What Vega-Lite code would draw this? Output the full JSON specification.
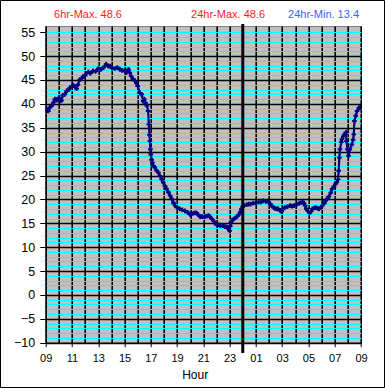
{
  "$schema": "https://vega.github.io/schema/vega-lite/v6.json",
  "width": 315.3,
  "height": 316.7,
  "autosize": "none",
  "padding": {"left": 45.7, "top": 26, "right": 24, "bottom": 45.3},
  "background": "white",
  "config": {
    "view": {"fill": "#C0C0C0", "stroke": "#808080", "strokeWidth": 1},
    "font": "Liberation Sans"
  },
  "resolve": {"axis": {"x": "independent", "y": "independent"}},
  "datasets": {
    "temp": [
      {"h": 0.0, "t": 39.1}, {"h": 0.1, "t": 38.6}, {"h": 0.2, "t": 38.5}, {"h": 0.3, "t": 39.2},
      {"h": 0.45, "t": 39.6}, {"h": 0.6, "t": 40.3}, {"h": 0.7, "t": 41.0}, {"h": 0.85, "t": 40.8},
      {"h": 1.0, "t": 41.3}, {"h": 1.1, "t": 40.6}, {"h": 1.2, "t": 40.7}, {"h": 1.3, "t": 41.8},
      {"h": 1.45, "t": 42.0}, {"h": 1.6, "t": 42.7}, {"h": 1.75, "t": 43.0}, {"h": 1.85, "t": 43.4},
      {"h": 2.0, "t": 43.7}, {"h": 2.1, "t": 43.9}, {"h": 2.25, "t": 43.5}, {"h": 2.35, "t": 43.2},
      {"h": 2.45, "t": 44.0}, {"h": 2.6, "t": 45.1}, {"h": 2.75, "t": 45.4}, {"h": 2.85, "t": 45.7},
      {"h": 3.0, "t": 45.9}, {"h": 3.25, "t": 46.7}, {"h": 3.4, "t": 46.4}, {"h": 3.6, "t": 46.9},
      {"h": 3.8, "t": 46.8}, {"h": 4.0, "t": 47.4}, {"h": 4.2, "t": 47.2}, {"h": 4.4, "t": 47.6},
      {"h": 4.6, "t": 48.3}, {"h": 4.75, "t": 47.9}, {"h": 4.9, "t": 47.9}, {"h": 5.05, "t": 47.5},
      {"h": 5.25, "t": 47.4}, {"h": 5.45, "t": 47.6}, {"h": 5.65, "t": 47.2}, {"h": 5.8, "t": 47.0},
      {"h": 6.0, "t": 46.9}, {"h": 6.15, "t": 46.6}, {"h": 6.3, "t": 47.2}, {"h": 6.4, "t": 46.5},
      {"h": 6.5, "t": 45.8}, {"h": 6.65, "t": 45.2}, {"h": 6.8, "t": 44.8}, {"h": 6.9, "t": 44.3},
      {"h": 7.0, "t": 43.75}, {"h": 7.17, "t": 42.3}, {"h": 7.3, "t": 42.0}, {"h": 7.42, "t": 40.6},
      {"h": 7.5, "t": 41.0}, {"h": 7.6, "t": 40.2}, {"h": 7.7, "t": 39.6}, {"h": 7.8, "t": 38.5},
      {"h": 7.85, "t": 35.7}, {"h": 7.9, "t": 33.5}, {"h": 7.93, "t": 32.2}, {"h": 7.97, "t": 30.5},
      {"h": 8.0, "t": 29.4}, {"h": 8.06, "t": 28.3}, {"h": 8.12, "t": 27.7}, {"h": 8.2, "t": 27.0},
      {"h": 8.3, "t": 26.7}, {"h": 8.45, "t": 26.0}, {"h": 8.58, "t": 25.6}, {"h": 8.7, "t": 24.9},
      {"h": 8.83, "t": 24.2}, {"h": 8.95, "t": 23.5}, {"h": 9.08, "t": 22.8}, {"h": 9.2, "t": 22.2},
      {"h": 9.34, "t": 21.5}, {"h": 9.47, "t": 20.8}, {"h": 9.6, "t": 20.1}, {"h": 9.72, "t": 19.3},
      {"h": 9.85, "t": 18.7}, {"h": 10.0, "t": 18.3}, {"h": 10.2, "t": 18.0}, {"h": 10.4, "t": 17.8},
      {"h": 10.6, "t": 17.6}, {"h": 10.8, "t": 17.3}, {"h": 11.0, "t": 16.8}, {"h": 11.1, "t": 17.0},
      {"h": 11.25, "t": 17.1}, {"h": 11.4, "t": 17.2}, {"h": 11.5, "t": 17.1}, {"h": 11.6, "t": 16.8},
      {"h": 11.75, "t": 16.4}, {"h": 11.9, "t": 16.4}, {"h": 12.1, "t": 16.4}, {"h": 12.25, "t": 16.5},
      {"h": 12.4, "t": 16.6}, {"h": 12.5, "t": 16.4}, {"h": 12.65, "t": 15.9}, {"h": 12.8, "t": 15.4},
      {"h": 12.9, "t": 15.0}, {"h": 13.0, "t": 14.8}, {"h": 13.15, "t": 14.65}, {"h": 13.3, "t": 14.5},
      {"h": 13.5, "t": 14.5}, {"h": 13.65, "t": 14.3}, {"h": 13.8, "t": 14.2}, {"h": 13.9, "t": 13.9},
      {"h": 14.0, "t": 13.4}, {"h": 14.05, "t": 14.4}, {"h": 14.1, "t": 15.2}, {"h": 14.2, "t": 15.6},
      {"h": 14.3, "t": 15.9}, {"h": 14.45, "t": 16.1}, {"h": 14.55, "t": 16.4}, {"h": 14.7, "t": 16.8},
      {"h": 14.8, "t": 17.3}, {"h": 14.9, "t": 18.0}, {"h": 15.0, "t": 18.5}, {"h": 15.1, "t": 18.7},
      {"h": 15.3, "t": 18.9}, {"h": 15.45, "t": 19.0}, {"h": 15.6, "t": 19.0}, {"h": 15.8, "t": 19.2},
      {"h": 16.0, "t": 19.3}, {"h": 16.2, "t": 19.4}, {"h": 16.4, "t": 19.5}, {"h": 16.55, "t": 19.7},
      {"h": 16.75, "t": 19.6}, {"h": 16.95, "t": 19.5}, {"h": 17.1, "t": 19.0}, {"h": 17.2, "t": 18.7},
      {"h": 17.35, "t": 18.3}, {"h": 17.45, "t": 18.1}, {"h": 17.6, "t": 18.0}, {"h": 17.7, "t": 18.0},
      {"h": 17.85, "t": 17.7}, {"h": 17.95, "t": 17.5}, {"h": 18.05, "t": 17.9}, {"h": 18.2, "t": 18.3},
      {"h": 18.4, "t": 18.5}, {"h": 18.6, "t": 18.7}, {"h": 18.75, "t": 18.6}, {"h": 18.9, "t": 18.7},
      {"h": 19.1, "t": 18.9}, {"h": 19.3, "t": 19.2}, {"h": 19.45, "t": 19.3}, {"h": 19.55, "t": 19.5},
      {"h": 19.65, "t": 19.2}, {"h": 19.75, "t": 18.7}, {"h": 19.85, "t": 18.0}, {"h": 19.95, "t": 17.6},
      {"h": 20.1, "t": 17.2}, {"h": 20.2, "t": 17.5}, {"h": 20.3, "t": 18.0}, {"h": 20.45, "t": 18.2},
      {"h": 20.55, "t": 18.3}, {"h": 20.7, "t": 18.1}, {"h": 20.8, "t": 18.0}, {"h": 20.95, "t": 18.3},
      {"h": 21.05, "t": 18.7}, {"h": 21.2, "t": 19.2}, {"h": 21.3, "t": 19.7}, {"h": 21.45, "t": 20.2},
      {"h": 21.55, "t": 20.6}, {"h": 21.7, "t": 21.4}, {"h": 21.8, "t": 22.2}, {"h": 21.95, "t": 22.7},
      {"h": 22.05, "t": 23.2}, {"h": 22.15, "t": 23.6}, {"h": 22.25, "t": 24.2}, {"h": 22.3, "t": 26.0},
      {"h": 22.35, "t": 28.75}, {"h": 22.4, "t": 30.5}, {"h": 22.5, "t": 32.0}, {"h": 22.55, "t": 32.6},
      {"h": 22.65, "t": 33.2}, {"h": 22.75, "t": 33.6}, {"h": 22.85, "t": 34.0}, {"h": 22.9, "t": 32.2},
      {"h": 22.97, "t": 30.5}, {"h": 23.05, "t": 29.1}, {"h": 23.15, "t": 30.5}, {"h": 23.3, "t": 31.5},
      {"h": 23.4, "t": 32.5}, {"h": 23.45, "t": 33.6}, {"h": 23.5, "t": 36.4}, {"h": 23.6, "t": 37.5},
      {"h": 23.7, "t": 38.5}, {"h": 23.85, "t": 39.2}, {"h": 24.0, "t": 39.2}
    ]
  },
  "layer": [
    {
      "data": {"name": "temp"},
      "mark": {"type": "line", "color": "#000080", "strokeWidth": 2.2, "clip": true,
        "point": {"shape": "cross", "filled": true, "size": 22, "color": "#000080", "opacity": 1}},
      "encoding": {
        "x": {
          "field": "h", "type": "quantitative",
          "scale": {"domain": [0, 24], "nice": false, "zero": false},
          "axis": {
            "values": [0,1,2,3,4,5,6,7,8,9,10,11,12,13,14,15,16,17,18,19,20,21,22,23,24],
            "labelExpr": "datum.value % 2 == 0 ? (((9 + datum.value) % 24) < 10 ? '0' : '') + ((9 + datum.value) % 24) : ''",
            "labelOverlap": false, "labelFlush": false, "labelBound": false,
            "labelFont": "Liberation Sans", "labelFontSize": 11, "labelColor": "black",
            "labelBaseline": "alphabetic", "labelPadding": 14.6,
            "tickSize": 4, "tickColor": "black", "tickWidth": 1,
            "tickOpacity": {"condition": {"test": "datum.value % 2 == 1", "value": 0}, "value": 1},
            "domainColor": "black", "domainWidth": 1,
            "grid": true, "gridColor": "black", "gridWidth": 1.6, "gridOpacity": 1,
            "title": "Hour", "titleFont": "Liberation Sans", "titleFontSize": 12, "titleFontWeight": "normal",
            "titleColor": "black", "titleX": 149, "titleY": 36, "titleBaseline": "alphabetic"
          }
        },
        "y": {
          "field": "t", "type": "quantitative",
          "scale": {"domain": [-10, 56.3], "nice": false, "zero": false},
          "axis": {
            "values": [-10,-9,-8,-7,-6,-5,-4,-3,-2,-1,0,1,2,3,4,5,6,7,8,9,10,11,12,13,14,15,16,17,18,19,20,21,22,23,24,25,26,27,28,29,30,31,32,33,34,35,36,37,38,39,40,41,42,43,44,45,46,47,48,49,50,51,52,53,54,55],
            "labelExpr": "datum.value % 5 == 0 ? datum.label : ''",
            "labelOverlap": false, "labelBound": false, "labelFlush": false,
            "labelFont": "Liberation Sans", "labelFontSize": 12.5, "labelColor": "black", "labelPadding": 5,
            "tickSize": 6, "tickColor": "black", "tickWidth": 1,
            "tickOpacity": {"condition": {"test": "datum.value % 5 != 0", "value": 0}, "value": 1},
            "domainColor": "black", "domainWidth": 1,
            "grid": true,
            "gridColor": {"condition": {"test": "datum.value % 5 == 0 && datum.value < 55", "value": "black"}, "value": "#00FFFF"},
            "gridWidth": {"condition": {"test": "datum.value % 5 == 0 && datum.value < 55", "value": 1.6}, "value": 1},
            "gridOpacity": 1,
            "title": null
          }
        }
      }
    },
    {
      "data": {"values": [{}]},
      "mark": {"type": "rule", "color": "black", "strokeWidth": 3},
      "encoding": {
        "x": {"datum": 15, "type": "quantitative", "axis": null},
        "y": {"datum": 56.72, "type": "quantitative", "axis": null},
        "y2": {"datum": -12.16}
      }
    },
    {
      "data": {"values": [{}]},
      "mark": {"type": "rect", "fill": null, "fillOpacity": 0, "stroke": "black", "strokeWidth": 1},
      "encoding": {
        "x": {"datum": -3.44, "type": "quantitative", "axis": null},
        "x2": {"datum": 25.79},
        "y": {"datum": 61.64, "type": "quantitative", "axis": null},
        "y2": {"datum": -19.38}
      }
    },
    {
      "data": {"values": [{"label": "6hr-Max. 48.6", "h": 3.22, "color": "#FF1A1A"}, {"label": "24hr-Max. 48.6", "h": 13.88, "color": "#FF1A1A"}, {"label": "24hr-Min. 13.4", "h": 21.15, "color": "#3366FF"}]},
      "mark": {"type": "text", "font": "Liberation Sans", "fontSize": 11, "baseline": "middle", "align": "center"},
      "encoding": {
        "x": {"field": "h", "type": "quantitative", "axis": null},
        "y": {"datum": 58.6, "type": "quantitative", "axis": null},
        "text": {"field": "label"},
        "color": {"field": "color", "type": "nominal", "scale": null}
      }
    }
  ]
}
